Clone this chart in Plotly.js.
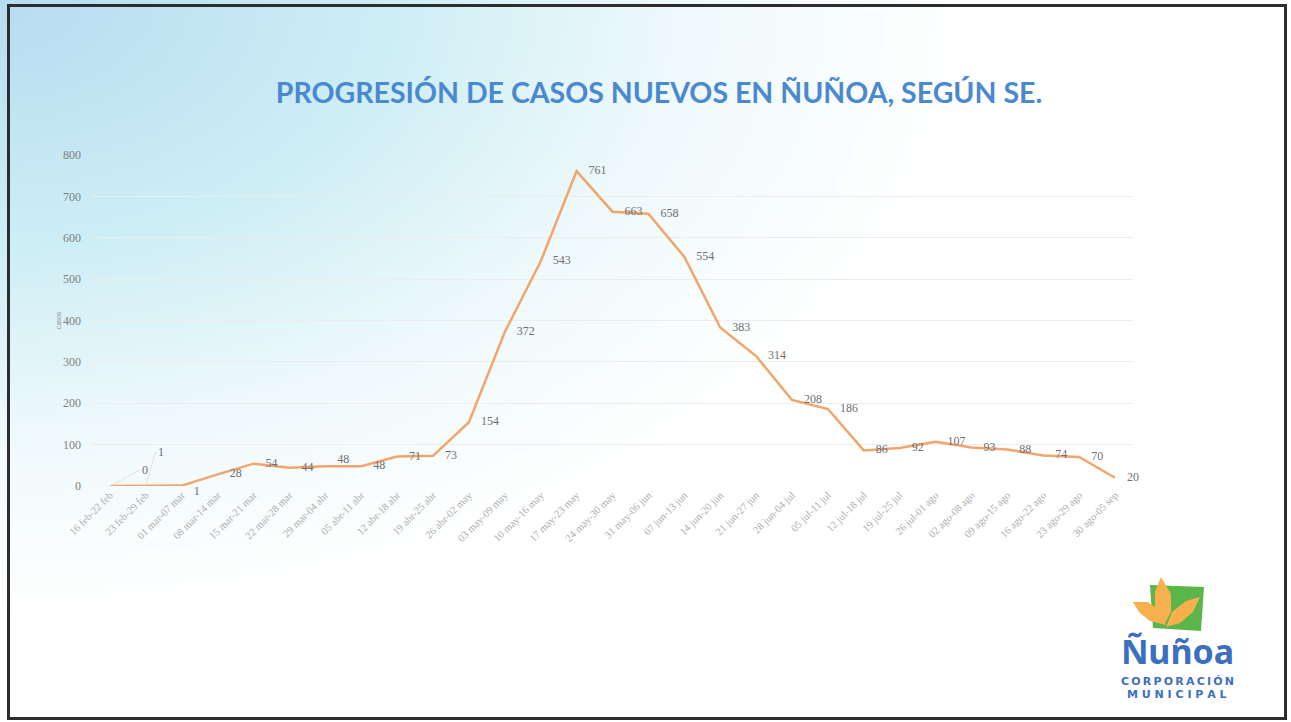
<!DOCTYPE html>
<html>
<head>
<meta charset="utf-8">
<script src="https://cdn.plot.ly/plotly-3.0.1.min.js"></script>
<style>
  html, body { margin: 0; padding: 0; background: #fff; }
  #wrap {
    position: relative; width: 1291px; height: 722px; overflow: hidden;
    background: radial-gradient(ellipse 75% 85% at 0% 0%, #b7dcf1 0%, #cdeef5 40%, #eef9fb 70%, #ffffff 100%);
  }
  #frame {
    position: absolute; left: 7px; top: 4px; width: 1274px; height: 710px;
    border: 3px solid #2d2d2d; pointer-events: none;
  }
  #chart { position: absolute; left: 0; top: 0; }
</style>
</head>
<body>
<div id="wrap">
  <div id="chart"></div>
  <div id="frame"></div>
</div>
<script>
'use strict'

// weekly ranges (semana epidemiologica)
const weeks = [
  '16 feb-22 feb', '23 feb-29 feb', '01 mar-07 mar', '08 mar-14 mar', '15 mar-21 mar',
  '22 mar-28 mar', '29 mar-04 abr', '05 abr-11 abr', '12 abr-18 abr', '19 abr-25 abr',
  '26 abr-02 may', '03 may-09 may', '10 may-16 may', '17 may-23 may', '24 may-30 may',
  '31 may-06 jun', '07 jun-13 jun', '14 jun-20 jun', '21 jun-27 jun', '28 jun-04 jul',
  '05 jul-11 jul', '12 jul-18 jul', '19 jul-25 jul', '26 jul-01 ago', '02 ago-08 ago',
  '09 ago-15 ago', '16 ago-22 ago', '23 ago-29 ago', '30 ago-05 sep'
]

const casos = [
  0, 1, 1, 28, 54, 44, 48, 48, 71, 73, 154, 372, 543, 761, 663,
  658, 554, 383, 314, 208, 186, 86, 92, 107, 93, 88, 74, 70, 20
]

const yTicks = [0, 100, 200, 300, 400, 500, 600, 700, 800]

// label placement, first two have leader lines instead
const labelPos = casos.map((v, i) => {
  if (i === 2) return 'bottom right'
  if (i === 6) return 'top right'
  return 'middle right'
})
const pad = '\u00a0\u00a0\u00a0\u00a0'
const labelText = casos.map((v, i) => (i < 2 ? '' : pad + v))

// plot area in px, used to place the logo pieces
const plot = { l: 92, r: 1133, t: 155, b: 486 }
const fx = px => (px - plot.l) / (plot.r - plot.l)
const fy = py => (plot.b - py) / (plot.b - plot.t)
const path = pts => 'M ' + pts.map(p => fx(p[0]).toFixed(4) + ' ' + fy(p[1]).toFixed(4)).join(' L ') + ' Z'

const serif = 'Liberation Serif, Times New Roman, serif'

const trace = {
  x: weeks,
  y: casos,
  type: 'scatter',
  mode: 'lines+text',
  line: { color: '#f2a56b', width: 2.5 },
  text: labelText,
  textposition: labelPos,
  textfont: { family: serif, size: 12, color: '#6f6f6f' },
  cliponaxis: false,
  hoverinfo: 'x+y'
}

const leaders = [0, 1].map((i, k) => ({
  x: weeks[i], y: casos[i], xref: 'x', yref: 'y',
  text: String(casos[i]),
  showarrow: true, arrowhead: 0, arrowwidth: 0.8, arrowcolor: '#d9d9d9',
  ax: k === 0 ? 30 : 10, ay: k === 0 ? -16 : -34,
  font: { family: serif, size: 12, color: '#6f6f6f' },
  xanchor: 'left'
}))

const logoBlue = '#3d6fc0'
const logoText = [
  { text: '<b>Ñuñoa</b>', x: fx(1177), y: fy(651), size: 34, family: 'Noto Sans, sans-serif' },
  { text: '<b>C\u2009O\u2009R\u2009P\u2009O\u2009R\u2009A\u2009C\u2009I\u2009Ó\u2009N</b>', x: fx(1177), y: fy(681), size: 11, family: 'DejaVu Sans, sans-serif' },
  { text: '<b>M U N I C I P A L</b>', x: fx(1177), y: fy(694), size: 11, family: 'DejaVu Sans, sans-serif' }
].map(a => ({
  xref: 'paper', yref: 'paper', x: a.x, y: a.y, text: a.text, showarrow: false,
  xanchor: 'center', yanchor: 'middle',
  font: { family: a.family, size: a.size, color: logoBlue }
}))

const shapes = [
  // green square of the logo
  { type: 'path', xref: 'paper', yref: 'paper', line: { width: 0 }, fillcolor: '#5bb54a',
    path: path([[1150, 585], [1204, 587], [1201, 631], [1153, 628]]) },
  // orange leaves
  { type: 'path', xref: 'paper', yref: 'paper', line: { width: 0 }, fillcolor: '#f6b04e',
    path: path([[1161, 577], [1171, 594], [1171, 612], [1164, 625], [1155, 611], [1155, 592]]) },
  { type: 'path', xref: 'paper', yref: 'paper', line: { width: 0 }, fillcolor: '#f6b04e',
    path: path([[1133, 602], [1148, 602], [1160, 611], [1166, 625], [1150, 621], [1139, 612]]) },
  { type: 'path', xref: 'paper', yref: 'paper', line: { width: 0 }, fillcolor: '#f6b04e',
    path: path([[1200, 597], [1193, 612], [1180, 623], [1166, 627], [1172, 612], [1186, 601]]) }
]

const layout = {
  width: 1291,
  height: 722,
  margin: { l: plot.l, r: 1291 - plot.r, t: plot.t, b: 722 - plot.b },
  paper_bgcolor: 'rgba(0,0,0,0)',
  plot_bgcolor: 'rgba(0,0,0,0)',
  showlegend: false,
  title: {
    text: '<b>PROGRESIÓN DE CASOS NUEVOS EN ÑUÑOA, SEGÚN SE.</b>',
    font: { family: 'Lato, sans-serif', size: 28.5, color: '#4a88cf' },
    x: 659 / 1291, xanchor: 'center', y: 1 - 93 / 722, yanchor: 'middle', yref: 'container'
  },
  xaxis: {
    type: 'category',
    range: [-0.5, weeks.length - 0.5],
    tickangle: -45,
    tickfont: { family: serif, size: 10.5, color: '#acacac' },
    showgrid: false,
    showline: false,
    ticks: '',
    zeroline: false
  },
  yaxis: {
    range: [0, 800],
    tickvals: yTicks,
    tickfont: { family: serif, size: 12, color: '#808080' },
    gridcolor: '#ececec',
    gridwidth: 1,
    zeroline: false,
    showline: false,
    ticklabelstandoff: 10,
    title: { text: 'casos', font: { family: serif, size: 8, color: '#8c8c8c' }, standoff: 0 }
  },
  annotations: leaders.concat(logoText),
  shapes: shapes
}

Plotly.newPlot('chart', [trace], layout, { displayModeBar: false, staticPlot: true })
</script>
</body>
</html>
